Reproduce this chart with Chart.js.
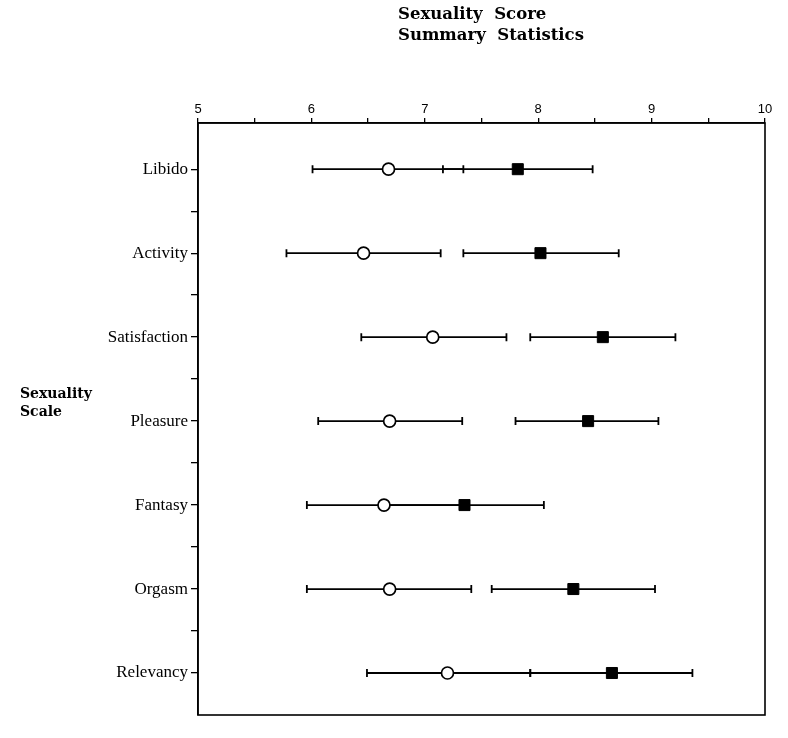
<!DOCTYPE html>
<html><head><meta charset="utf-8">
<script src="https://cdn.jsdelivr.net/npm/chart.js@4"></script>
<style>
html,body{margin:0;padding:0;background:#fff;}
#wrap{position:relative;width:788px;height:738px;}
#title{position:absolute;left:398px;top:3px;font:bold 16.5px "DejaVu Serif";line-height:21px;white-space:pre;color:#000;}
#ylab{position:absolute;left:20px;top:384px;font:bold 14px "DejaVu Serif";line-height:18px;color:#000;}
</style></head><body>
<div id="wrap"><canvas id="c" width="788" height="738"></canvas>
<div id="title">Sexuality  Score
Summary  Statistics</div>
<div id="ylab">Sexuality<br>Scale</div></div>
<script>
const categories = ['Libido','Activity','Satisfaction','Pleasure','Fantasy','Orgasm','Relevancy'];
const openMean  = [6.68, 6.46, 7.07, 6.69, 6.64, 6.69, 7.20];
const openLow   = [6.01, 5.78, 6.44, 6.06, 5.96, 5.96, 6.49];
const openHigh  = [7.34, 7.14, 7.72, 7.33, 7.33, 7.41, 7.93];
const filledMean = [7.82, 8.02, 8.57, 8.44, 7.35, 8.31, 8.65];
const filledLow  = [7.16, 7.34, 7.93, 7.80, 6.65, 7.59, 7.93];
const filledHigh = [8.48, 8.71, 9.21, 9.06, 8.05, 9.03, 9.36];
const xTickLabels = ['5','6','7','8','9','10'];

const errorBars = {
  id: 'errorBars',
  beforeDatasetsDraw(chart) {
    const {ctx, scales: {x, y}} = chart;
    ctx.save();
    ctx.strokeStyle = '#000';
    ctx.lineWidth = 1.8;
    chart.data.datasets.forEach(ds => {
      ds.data.forEach((pt, i) => {
        const py = y.getPixelForValue(pt.y);
        const x1 = x.getPixelForValue(ds.lows[i]);
        const x2 = x.getPixelForValue(ds.highs[i]);
        ctx.beginPath();
        ctx.moveTo(x1, py); ctx.lineTo(x2, py);
        ctx.moveTo(x1, py - 4); ctx.lineTo(x1, py + 4);
        ctx.moveTo(x2, py - 4); ctx.lineTo(x2, py + 4);
        ctx.stroke();
      });
    });
    ctx.restore();
  }
};
const frame = {
  id: 'frame',
  afterDraw(chart) {
    const {ctx, chartArea: a} = chart;
    ctx.save();
    ctx.strokeStyle = '#000';
    ctx.lineWidth = 1.6;
    ctx.strokeRect(a.left, a.top, a.right - a.left, a.bottom - a.top);
    ctx.restore();
  }
};

new Chart(document.getElementById('c'), {
  type: 'scatter',
  data: {
    datasets: [
      {
        data: openMean.map((v, i) => ({x: v, y: i})),
        lows: openLow, highs: openHigh,
        pointStyle: 'circle', pointRadius: 6,
        backgroundColor: '#fff', borderColor: '#000', borderWidth: 1.7
      },
      {
        data: filledMean.map((v, i) => ({x: v, y: i})),
        lows: filledLow, highs: filledHigh,
        pointStyle: 'rect', pointRadius: 7.8,
        backgroundColor: '#000', borderColor: '#000', borderWidth: 1
      }
    ]
  },
  options: {
    responsive: false,
    animation: false,
    devicePixelRatio: 1,
    layout: {padding: {left: 0, top: 0, right: 23, bottom: 23}},
    plugins: {legend: {display: false}, tooltip: {enabled: false}, title: {display: false}},
    scales: {
      x: {
        type: 'linear', position: 'top', min: 5, max: 10,
        afterFit(s) { s.height = 123; },
        afterBuildTicks(s) {
          const t = [];
          for (let v = 5; v <= 10.001; v += 0.5) t.push({value: Math.round(v * 2) / 2});
          s.ticks = t;
        },
        ticks: {
          color: '#000', padding: 1, maxRotation: 0, autoSkip: false,
          font: {family: 'Liberation Sans', size: 13},
          callback: v => Number.isInteger(v) ? xTickLabels[v - 5] : ''
        },
        grid: {drawOnChartArea: false, drawTicks: true, tickLength: 5, color: '#000', lineWidth: 1.3},
        border: {display: true, color: '#000', width: 1.6}
      },
      y: {
        type: 'linear', position: 'left', reverse: true, min: -0.55, max: 6.5,
        afterFit(s) { s.width = 198; },
        afterBuildTicks(s) {
          const t = [];
          for (let i = 0; i < categories.length; i++) {
            t.push({value: i});
            if (i < categories.length - 1) t.push({value: i + 0.5});
          }
          s.ticks = t;
        },
        ticks: {
          color: '#000', padding: 3, autoSkip: false,
          font: {family: 'Liberation Serif', size: 17},
          callback: v => Number.isInteger(v) ? categories[v] : ''
        },
        grid: {drawOnChartArea: false, drawTicks: true, tickLength: 7, color: '#000', lineWidth: 1.3},
        border: {display: true, color: '#000', width: 1.6}
      }
    }
  },
  plugins: [errorBars, frame]
});
</script>
</body></html>
